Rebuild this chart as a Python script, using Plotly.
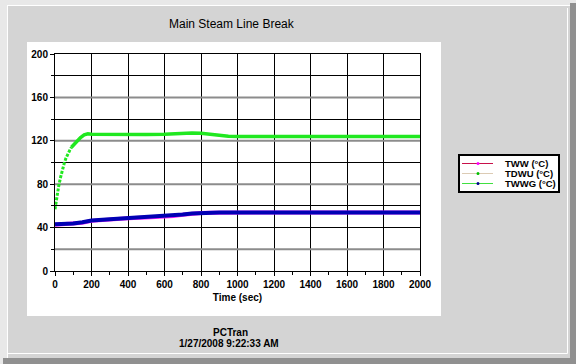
import plotly.graph_objects as go

# ---------------- data ----------------
TIME_G = [0, 10, 20, 30, 40, 50, 60, 70, 80, 90, 100, 120, 140, 160, 180, 200,
          300, 400, 500, 600, 650, 700, 750, 800, 850, 900, 950, 1000,
          1200, 1400, 1600, 1800, 2000]
TDWU = [57, 70, 78, 86, 93, 99, 104, 108, 111, 114, 116, 120, 123, 125.5, 126.5, 126,
        125.8, 125.8, 125.8, 126, 126.5, 127, 127.2, 127, 126, 125, 124.3, 124,
        124, 124, 124, 124, 124]

TIME_B = [0, 50, 100, 150, 200, 300, 400, 500, 600, 650, 700, 750, 800, 850, 900,
          1000, 1200, 1400, 1600, 1800, 2000]
TWWG = [43, 43.3, 43.8, 45, 46.6, 47.8, 48.8, 49.4, 50.2, 51, 52, 53, 53.6, 54, 54,
        54, 54, 54, 54, 54, 54]
TWW = [42.7, 43, 43.5, 44.5, 46.2, 47.6, 48.6, 49.2, 49.8, 50.7, 51.8, 52.8, 53.4, 53.7, 53.8,
       54, 54, 54, 54, 54, 54]

SERIES_NAMES = ["TWW (°C)", "TDWU (°C)", "TWWG (°C)"]
X_TICKS = [0, 200, 400, 600, 800, 1000, 1200, 1400, 1600, 1800, 2000]
Y_TICKS = [0, 40, 80, 120, 160, 200]
GRAY_GRID = [20, 80, 120, 160]

# ---------------- layout geometry ----------------
W, H = 576, 364
L, R, T, B = 55, 420, 54, 271   # plot area in pixels
PW, PH = R - L, B - T


def px(xp):
    return (xp - L) / PW


def py(yp):
    return (B - yp) / PH


FONT = "Liberation Sans, Arial, sans-serif"
DOT_SPLIT = TIME_G.index(90)

fig = go.Figure()
fig.add_trace(go.Scatter(x=TIME_B, y=TWW, mode="lines", name=SERIES_NAMES[0],
                         line=dict(color="#ff22ff", width=4), showlegend=False))
fig.add_trace(go.Scatter(x=TIME_B, y=TWWG, mode="lines", name=SERIES_NAMES[2],
                         line=dict(color="#0000b4", width=4), showlegend=False))
fig.add_trace(go.Scatter(x=TIME_G[:DOT_SPLIT + 1], y=TDWU[:DOT_SPLIT + 1], mode="lines",
                         name=SERIES_NAMES[1],
                         line=dict(color="#20e820", width=3, dash="3px,1.5px"), showlegend=False))
fig.add_trace(go.Scatter(x=TIME_G[DOT_SPLIT:], y=TDWU[DOT_SPLIT:], mode="lines",
                         name=SERIES_NAMES[1],
                         line=dict(color="#20e820", width=3.5), showlegend=False))

shapes = []
# window frame
shapes.append(dict(type="rect", xref="paper", yref="paper", layer="below",
                   x0=px(7), x1=px(570), y0=py(5), y1=py(358),
                   fillcolor="#d4d4d4", line=dict(width=0)))
for (x0, y0, x1, y1) in [(7, 5.5, 570, 5.5), (7.5, 5, 7.5, 358),
                         (567.5, 8, 567.5, 353.5), (8, 353.5, 567.5, 353.5)]:
    shapes.append(dict(type="line", xref="paper", yref="paper", layer="below",
                       x0=px(x0), x1=px(x1), y0=py(y0), y1=py(y1),
                       line=dict(color="#ffffff", width=1)))
shapes.append(dict(type="rect", xref="paper", yref="paper", layer="below",
                   x0=px(570), x1=px(576), y0=py(3), y1=py(364),
                   fillcolor="#909090", line=dict(width=0)))
shapes.append(dict(type="rect", xref="paper", yref="paper", layer="below",
                   x0=px(3), x1=px(576), y0=py(358), y1=py(364),
                   fillcolor="#909090", line=dict(width=0)))
# white chart panel
shapes.append(dict(type="rect", xref="paper", yref="paper", layer="below",
                   x0=px(27), x1=px(441), y0=py(42), y1=py(316),
                   fillcolor="#ffffff", line=dict(width=0)))
# gray horizontal grid lines
for g in GRAY_GRID:
    shapes.append(dict(type="line", xref="x", yref="y", layer="between",
                       x0=0, x1=2000, y0=g, y1=g,
                       line=dict(color="#8c8c8c", width=2)))

# custom legend
shapes.append(dict(type="rect", xref="paper", yref="paper", layer="above",
                   x0=px(459), x1=px(559), y0=py(155), y1=py(192),
                   fillcolor="#ffffff", line=dict(color="#000000", width=2)))
legend_line_colors = ["#c8104a", "#dccbb4", "#40e040"]
legend_dot_colors = ["#ff00ff", "#00c000", "#000090"]
legend_rows = [163.5, 173.5, 183.5]
annotations = []
for name, lc, dc, ry in zip(SERIES_NAMES, legend_line_colors, legend_dot_colors, legend_rows):
    shapes.append(dict(type="line", xref="paper", yref="paper", layer="above",
                       x0=px(462), x1=px(493), y0=py(ry), y1=py(ry),
                       line=dict(color=lc, width=1)))
    shapes.append(dict(type="circle", xref="paper", yref="paper", layer="above",
                       x0=px(476.5), x1=px(479.5), y0=py(ry - 1.5), y1=py(ry + 1.5),
                       fillcolor=dc, line=dict(width=0)))
    annotations.append(dict(xref="paper", yref="paper", x=px(503), y=py(ry),
                            xanchor="left", yanchor="middle", showarrow=False,
                            text="<b>%s</b>" % name,
                            font=dict(family=FONT, size=9.5, color="#000000")))

# titles / footer
annotations.append(dict(xref="paper", yref="paper", x=px(232), y=py(24),
                        xanchor="center", yanchor="middle", showarrow=False,
                        text="Main Steam Line Break",
                        font=dict(family=FONT, size=12, color="#000000")))
annotations.append(dict(xref="paper", yref="paper", x=px(230), y=py(332),
                        xanchor="center", yanchor="middle", showarrow=False,
                        text="<b>PCTran</b>",
                        font=dict(family=FONT, size=10, color="#000000")))
annotations.append(dict(xref="paper", yref="paper", x=px(229), y=py(343),
                        xanchor="center", yanchor="middle", showarrow=False,
                        text="<b>1/27/2008 9:22:33 AM</b>",
                        font=dict(family=FONT, size=10, color="#000000")))

tickfont = dict(family=FONT, size=10, color="#000000", weight="bold")

fig.update_layout(
    width=W, height=H,
    margin=dict(l=L, r=W - R, t=T, b=H - B, pad=0),
    paper_bgcolor="#e8e8e8",
    plot_bgcolor="#ffffff",
    showlegend=False,
    shapes=shapes,
    annotations=annotations,
    xaxis=dict(range=[0, 2000], tickvals=X_TICKS, ticktext=[str(v) for v in X_TICKS],
               showgrid=True, gridcolor="#000000", gridwidth=1,
               zeroline=False, showline=True, linecolor="#000000", linewidth=1,
               mirror=True, ticks="outside", ticklen=4, tickcolor="#000000",
               tickfont=tickfont,
               minor=dict(dtick=100, ticks="outside", ticklen=3, tickcolor="#000000",
                          showgrid=False),
               title=dict(text="<b>Time (sec)</b>", standoff=4,
                          font=dict(family=FONT, size=10, color="#000000"))),
    yaxis=dict(range=[0, 200], tickvals=Y_TICKS, ticktext=[str(v) for v in Y_TICKS],
               showgrid=True, gridcolor="#000000", gridwidth=1,
               zeroline=False, showline=True, linecolor="#000000", linewidth=1,
               mirror=True, ticks="outside", ticklen=4, tickcolor="#000000",
               tickfont=tickfont,
               minor=dict(dtick=20, ticks="outside", ticklen=3, tickcolor="#000000",
                          showgrid=True, gridcolor="#000000", gridwidth=1)),
)

fig.write_html("out.html",
               config={"displayModeBar": False, "staticPlot": True},
               post_script="document.body.style.margin='0';document.body.style.overflow='hidden';")
